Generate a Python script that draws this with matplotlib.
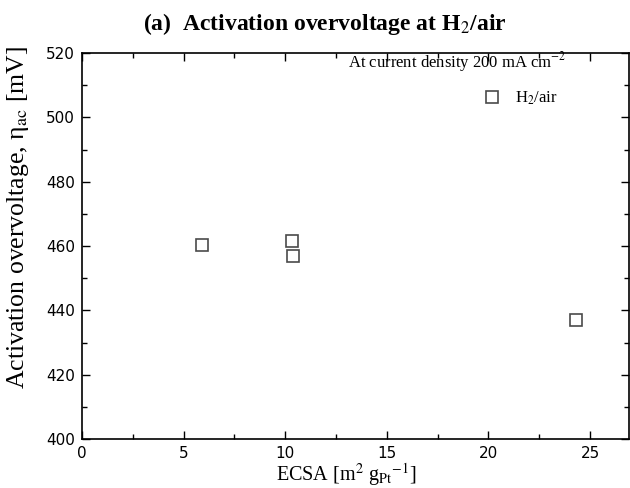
import matplotlib
matplotlib.use("Agg")
import matplotlib.pyplot as plt
from matplotlib.ticker import MultipleLocator

# ECSA [m2 g_Pt^-1] vs activation overvoltage [mV] at 200 mA cm-2, H2/air
ecsa = [5.9, 10.35, 10.4, 24.3]
eta_ac = [460.3, 461.6, 456.9, 437.0]

x_ticks = [0, 5, 10, 15, 20, 25]
y_ticks = [400, 420, 440, 460, 480, 500, 520]

serif = ["Liberation Serif", "DejaVu Serif"]
plt.rcParams["mathtext.fontset"] = "stix"


def main():
    fig = plt.figure(figsize=(6.3, 4.88), dpi=100)
    ax = fig.add_axes([0.130, 0.1004, 0.868, 0.7906])

    ax.plot(ecsa, eta_ac, linestyle="none", marker="s", markersize=9,
            markerfacecolor="white", markeredgecolor="#4a4a4a",
            markeredgewidth=1.2, label=r"H$_2$/air")

    ax.set_xlim(0, 26.9)
    ax.set_ylim(400, 520)
    ax.set_xticks(x_ticks)
    ax.set_yticks(y_ticks)
    ax.xaxis.set_minor_locator(MultipleLocator(2.5))
    ax.yaxis.set_minor_locator(MultipleLocator(10))
    ax.tick_params(which="both", direction="in", top=True, right=True,
                   labelsize=11, pad=5)
    ax.tick_params(which="major", length=6, width=1)
    ax.tick_params(which="minor", length=3.5, width=1)
    for s in ax.spines.values():
        s.set_linewidth(1.2)

    ax.set_xlabel(r"ECSA [m$^2$ g$_{\mathrm{Pt}}$$^{-1}$]", fontsize=14.5,
                  family=serif, va="top")
    ax.xaxis.set_label_coords(0.483, -0.056)
    ax.set_ylabel(r"Activation overvoltage, η$_{\mathrm{ac}}$ [mV]",
                  fontsize=18.5, family=serif)
    ax.yaxis.set_label_coords(-0.093, 0.575)

    fig.text(0.515, 0.95, r"(a)  Activation overvoltage at H$_2$/air",
             fontsize=17, fontweight="bold", family=serif,
             ha="center", va="center")

    ax.text(0.887, 0.964, r"At current density 200 mA cm$^{-2}$",
            transform=ax.transAxes, ha="right", va="baseline", fontsize=12,
            family=serif)
    ax.legend(loc="center left", bbox_to_anchor=(0.735, 0.883),
              frameon=False, prop={"family": serif, "size": 12},
              borderpad=0, borderaxespad=0, handletextpad=0.9,
              handlelength=1.0)

    fig.savefig("out.png", dpi=100)
    plt.close(fig)


if __name__ == "__main__":
    main()
